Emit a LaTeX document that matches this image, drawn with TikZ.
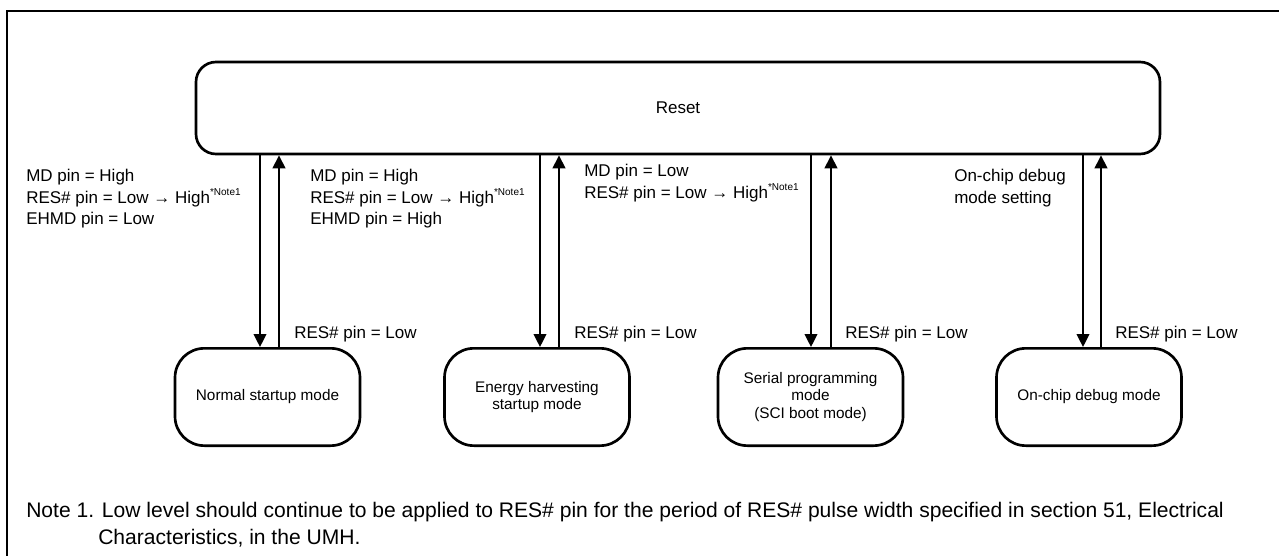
\documentclass[tikz,border=0pt]{standalone}
\usepackage{fontspec}
\setmainfont{Liberation Sans}
\usetikzlibrary{arrows.meta}
\newcommand{\notesup}{\raisebox{5.4pt}{\fontsize{7.5pt}{8pt}\selectfont *Note1}}
\begin{document}
\begin{tikzpicture}[x=0.75pt,y=-0.75pt,
  state/.style={draw, line width=2pt, rounded corners=22pt, minimum width=138.75pt, minimum height=73pt, align=center, inner sep=0pt, font=\fontsize{11.5pt}{13.1pt}\selectfont},
  resetbox/.style={draw, line width=2pt, rounded corners=15pt, minimum width=723pt, minimum height=69pt, inner sep=0pt, font=\fontsize{12.75pt}{15pt}\selectfont},
  lbl/.style={anchor=north west, inner sep=0pt, align=left, font=\fontsize{12.75pt}{16.1pt}\selectfont},
  reslbl/.style={anchor=base west, inner sep=0pt, font=\fontsize{12.75pt}{16pt}\selectfont},
  notetext/.style={anchor=base west, inner sep=0pt, font=\fontsize{15.8pt}{20pt}\selectfont},
  arr/.style={line width=1.5pt, -{Triangle[length=9.75pt,width=9.5pt]}},
  frameline/.style={line width=1.8pt}]
\useasboundingbox (0,0) rectangle (1279,556);
\coordinate (fb) at (7,556);
\coordinate (fc) at (7,11);
\coordinate (fr) at (1279,11);
\draw[frameline] (fb) -- (fc) -- (fr);

\node[resetbox] (reset) at (678,108) {Reset};
\node[state] (b1) at (267.5,397) {Normal startup mode};
\node[state] (b2) at (537,397) {Energy harvesting\\startup mode};
\node[state] (b3) at (810.5,397) {Serial programming\\mode\\(SCI boot mode)};
\node[state] (b4) at (1089,397) {On-chip debug mode};

\coordinate (d1) at (260,0); \coordinate (u1) at (279,0);
\coordinate (d2) at (540,0); \coordinate (u2) at (559,0);
\coordinate (d3) at (811,0); \coordinate (u3) at (831,0);
\coordinate (d4) at (1083,0); \coordinate (u4) at (1101,0);

\draw[arr] (d1 |- reset.south) -- (d1 |- b1.north);
\draw[arr] (u1 |- b1.north) -- (u1 |- reset.south);
\draw[arr] (d2 |- reset.south) -- (d2 |- b2.north);
\draw[arr] (u2 |- b2.north) -- (u2 |- reset.south);
\draw[arr] (d3 |- reset.south) -- (d3 |- b3.north);
\draw[arr] (u3 |- b3.north) -- (u3 |- reset.south);
\draw[arr] (d4 |- reset.south) -- (d4 |- b4.north);
\draw[arr] (u4 |- b4.north) -- (u4 |- reset.south);

\node[lbl] (l1) at (26,169) {MD pin = High\\RES\# pin = Low → High\notesup\\EHMD pin = Low};
\node[lbl] (l2) at (310,169) {MD pin = High\\RES\# pin = Low → High\notesup\\EHMD pin = High};
\node[lbl] (l3) at (584,164) {MD pin = Low\\RES\# pin = Low → High\notesup};
\node[lbl] (l4) at (954,169) {On-chip debug\\mode setting};

\node[reslbl] (r1) at (294,339) {RES\# pin = Low};
\node[reslbl] (r2) at (574,339) {RES\# pin = Low};
\node[reslbl] (r3) at (845,339) {RES\# pin = Low};
\node[reslbl] (r4) at (1115,339) {RES\# pin = Low};

\node[notetext] (n1) at (26,517) {Note 1. Low level should continue to be applied to RES\# pin for the period of RES\# pulse width specified in section 51, Electrical};
\node[notetext] (n2) at (98,544) {Characteristics, in the UMH.};
\end{tikzpicture}
\end{document}
